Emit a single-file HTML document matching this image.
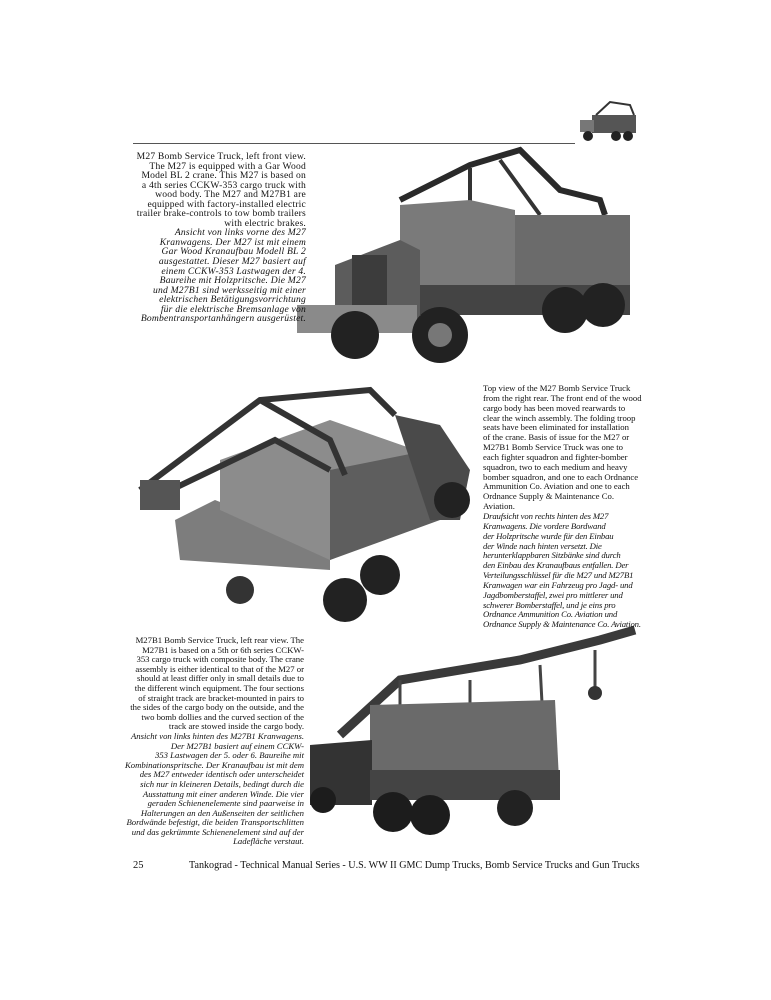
<!DOCTYPE html>
<html><head><meta charset="utf-8"><style>
body{margin:0;background:#fff;width:771px;height:1000px;position:relative;overflow:hidden;font-family:"Liberation Serif",serif;color:#111}
.t{position:absolute;font-size:8.7px;line-height:10px;white-space:nowrap}
.r{text-align:right}
i{font-style:italic}
svg{position:absolute;left:0;top:0}
</style></head><body>
<svg width="771" height="1000">
<line x1="133" y1="143.5" x2="575" y2="143.5" stroke="#555" stroke-width="1"/>
<!-- thumb -->
<g fill="#555"><rect x="592" y="115" width="44" height="18"/><rect x="580" y="120" width="14" height="12" fill="#777"/><circle cx="588" cy="136" r="5" fill="#222"/><circle cx="616" cy="136" r="5" fill="#222"/><circle cx="628" cy="136" r="5" fill="#222"/><path d="M596 115 L610 102 L630 105 L634 115" stroke="#333" stroke-width="2" fill="none"/></g>
<!-- top truck -->
<g>
<path d="M400 200 L470 165 L520 150 L560 190 L600 200 L605 215" stroke="#2a2a2a" stroke-width="6" fill="none"/>
<path d="M500 160 L540 215 M470 168 L470 230" stroke="#333" stroke-width="4" fill="none"/>
<polygon points="510,215 630,215 630,290 510,305" fill="#6b6b6b"/>
<polygon points="400,205 470,200 515,210 515,300 400,300" fill="#7a7a7a"/>
<polygon points="335,265 400,240 420,250 420,320 335,320" fill="#5c5c5c"/>
<rect x="352" y="255" width="35" height="50" fill="#3c3c3c"/>
<rect x="297" y="305" width="120" height="28" fill="#8a8a8a"/>
<rect x="420" y="285" width="210" height="30" fill="#444"/>
<circle cx="440" cy="335" r="28" fill="#222"/><circle cx="440" cy="335" r="12" fill="#777"/>
<circle cx="355" cy="335" r="24" fill="#222"/>
<circle cx="565" cy="310" r="23" fill="#222"/><circle cx="603" cy="305" r="22" fill="#222"/>
</g>
<!-- middle truck -->
<g>
<polygon points="175,520 215,500 330,545 330,570 180,560" fill="#7d7d7d"/>
<polygon points="220,460 330,420 430,455 430,520 330,560 220,510" fill="#8c8c8c"/>
<polygon points="330,470 430,450 440,520 330,560" fill="#5e5e5e"/>
<polygon points="395,415 440,425 470,470 460,520 430,520" fill="#4a4a4a"/>
<path d="M140 490 L260 400 L370 390 L395 415 M150 500 L275 440 L330 470 M260 400 L330 440 L345 475" stroke="#333" stroke-width="6" fill="none"/>
<rect x="140" y="480" width="40" height="30" fill="#555"/>
<circle cx="345" cy="600" r="22" fill="#222"/><circle cx="380" cy="575" r="20" fill="#222"/><circle cx="452" cy="500" r="18" fill="#222"/>
<circle cx="240" cy="590" r="14" fill="#333"/>
</g>
<!-- bottom truck -->
<g>
<path d="M340 735 L400 680 L520 660 L600 640 L635 630" stroke="#3a3a3a" stroke-width="9" fill="none"/>
<path d="M400 680 L400 760 M470 680 L470 760 M540 665 L545 760 M595 650 L595 690" stroke="#444" stroke-width="3" fill="none"/>
<circle cx="595" cy="693" r="7" fill="#333"/>
<polygon points="370,705 555,700 560,800 370,800" fill="#6a6a6a"/>
<polygon points="310,745 372,740 372,805 310,805" fill="#333"/>
<rect x="370" y="770" width="190" height="30" fill="#444"/>
<circle cx="323" cy="800" r="13" fill="#1c1c1c"/><circle cx="393" cy="812" r="20" fill="#1c1c1c"/><circle cx="430" cy="815" r="20" fill="#1c1c1c"/><circle cx="515" cy="808" r="18" fill="#222"/>
</g>
</svg>

<div class="t r" style="left:100px;top:152px;width:206px;font-size:9.6px;line-height:9.55px;letter-spacing:0.2px">M27 Bomb Service Truck, left front view.<br>The M27 is equipped with a Gar Wood<br>Model BL 2 crane. This M27 is based on<br>a 4th series CCKW-353 cargo truck with<br>wood body. The M27 and M27B1 are<br>equipped with factory-installed electric<br>trailer brake-controls to tow bomb trailers<br>with electric brakes.<br><i>Ansicht von links vorne des M27<br>Kranwagens. Der M27 ist mit einem<br>Gar Wood Kranaufbau Modell BL 2<br>ausgestattet. Dieser M27 basiert auf<br>einem CCKW-353 Lastwagen der 4.<br>Baureihe mit Holzpritsche. Die M27<br>und M27B1 sind werksseitig mit einer<br>elektrischen Betätigungsvorrichtung<br>für die elektrische Bremsanlage von<br>Bombentransportanhängern ausgerüstet.</i></div>

<div class="t" style="left:483px;top:384px;line-height:9.85px">Top view of the M27 Bomb Service Truck<br>from the right rear. The front end of the wood<br>cargo body has been moved rearwards to<br>clear the winch assembly. The folding troop<br>seats have been eliminated for installation<br>of the crane. Basis of issue for the M27 or<br>M27B1 Bomb Service Truck was one to<br>each fighter squadron and fighter-bomber<br>squadron, two to each medium and heavy<br>bomber squadron, and one to each Ordnance<br>Ammunition Co. Aviation and one to each<br>Ordnance Supply &amp; Maintenance Co.<br>Aviation.<br><i style="letter-spacing:-0.15px">Draufsicht von rechts hinten des M27<br>Kranwagens. Die vordere Bordwand<br>der Holzpritsche wurde für den Einbau<br>der Winde nach hinten versetzt. Die<br>herunterklappbaren Sitzbänke sind durch<br>den Einbau des Kranaufbaus entfallen. Der<br>Verteilungsschlüssel für die M27 und M27B1<br>Kranwagen war ein Fahrzeug pro Jagd- und<br>Jagdbomberstaffel, zwei pro mittlerer und<br>schwerer Bomberstaffel, und je eins pro<br>Ordnance Ammunition Co. Aviation und<br>Ordnance Supply &amp; Maintenance Co. Aviation.</i></div>

<div class="t r" style="left:110px;top:636px;width:194px;line-height:9.6px">M27B1 Bomb Service Truck, left rear view. The<br>M27B1 is based on a 5th or 6th series CCKW-<br>353 cargo truck with composite body. The crane<br>assembly is either identical to that of the M27 or<br>should at least differ only in small details due to<br>the different winch equipment. The four sections<br>of straight track are bracket-mounted in pairs to<br>the sides of the cargo body on the outside, and the<br>two bomb dollies and the curved section of the<br>track are stowed inside the cargo body.<br><i>Ansicht von links hinten des M27B1 Kranwagens.<br>Der M27B1 basiert auf einem CCKW-<br>353 Lastwagen der 5. oder 6. Baureihe mit<br>Kombinationspritsche. Der Kranaufbau ist mit dem<br>des M27 entweder identisch oder unterscheidet<br>sich nur in kleineren Details, bedingt durch die<br>Ausstattung mit einer anderen Winde. Die vier<br>geraden Schienenelemente sind paarweise in<br>Halterungen an den Außenseiten der seitlichen<br>Bordwände befestigt, die beiden Transportschlitten<br>und das gekrümmte Schienenelement sind auf der<br>Ladefläche verstaut.</i></div>

<div class="t" style="left:133px;top:859px;font-size:10.5px;line-height:13px">25</div>
<div class="t" style="left:189px;top:859px;font-size:10.1px;line-height:13px">Tankograd - Technical Manual Series - U.S. WW II GMC Dump Trucks, Bomb Service Trucks and Gun Trucks</div>
</body></html>
